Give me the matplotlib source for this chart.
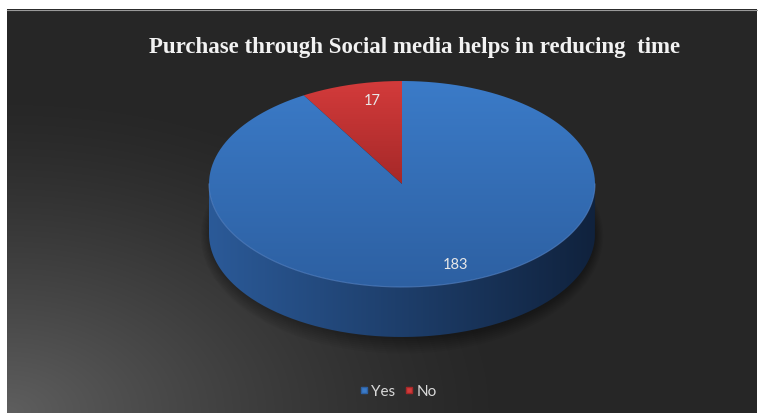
import matplotlib.pyplot as plt
import numpy as np
from matplotlib.path import Path
from matplotlib.patches import PathPatch
from matplotlib.lines import Line2D

labels = ['Yes', 'No']
values = [183, 17]
title = 'Purchase through Social media helps in reducing  time'

W, H = 758, 414
fig = plt.figure(figsize=(W / 100, H / 100), dpi=100)
fig.patch.set_facecolor('white')
ax = fig.add_axes([0, 0, 1, 1])
ax.set_xlim(0, W)
ax.set_ylim(H, 0)
ax.axis('off')

# background: dark with light glow in the bottom-left corner
x0, x1, y0, y1 = 7, 757, 10, 414
gx, gy = np.meshgrid(np.linspace(x0, x1, 300), np.linspace(y0, y1, 200))
d = np.sqrt(((gx - x0) / 500.0) ** 2 + ((gy - y1) / 320.0) ** 2)
v = np.clip(1 - d, 0, 1) ** 1.3
bg = 0.15 + 0.22 * v
img = np.dstack([bg, bg, bg])
ax.imshow(img, extent=(x0, x1, y1, y0), zorder=0, interpolation='bilinear')
ax.plot([x0, x1], [y0 + 0.5, y0 + 0.5], color='#9a9a9a', lw=0.8, zorder=1)
ax.set_xlim(0, W)
ax.set_ylim(H, 0)
ax.set_aspect('auto')

# pie geometry (pixels)
cx, cy, a, b, depth = 402, 185, 193, 103, 50


def ell(t, dy=0):
    return cx + a * np.cos(t), cy - b * np.sin(t) + dy


def grad_fill(verts, c_from, c_to, horizontal=False, z=2):
    path = Path(verts)
    patch = PathPatch(path, facecolor='none', edgecolor='none')
    ax.add_patch(patch)
    c_from = np.array(plt.matplotlib.colors.to_rgb(c_from))
    c_to = np.array(plt.matplotlib.colors.to_rgb(c_to))
    xs, ys = verts[:, 0], verts[:, 1]
    n = 256
    s = np.linspace(0, 1, n)
    cols = c_from[None, :] * (1 - s[:, None]) + c_to[None, :] * s[:, None]
    if horizontal:
        im = cols[None, :, :]
    else:
        im = cols[:, None, :]
    g = ax.imshow(im, extent=(xs.min(), xs.max(), ys.max(), ys.min()),
                  zorder=z, interpolation='bilinear', aspect='auto')
    g.set_clip_path(patch)


# soft shadow under the pie
for k in range(8):
    t = np.linspace(0, 2 * np.pi, 200)
    sx, sy = ell(t, depth + 2)
    ax.fill(cx + (sx - cx) * (1.0 + 0.006 * k), cy + depth + 2 + (sy - cy - depth - 2) * (1.0 + 0.02 * k),
            color='black', alpha=0.04, lw=0, zorder=1.5)

# side wall (front half)
t = np.linspace(np.pi, 2 * np.pi, 200)
tx, ty = ell(t)
bx, by = ell(t[::-1], depth)
side = np.column_stack([np.concatenate([tx, bx]), np.concatenate([ty, by])])
grad_fill(side, '#2b5a98', '#10223d', horizontal=True, z=2)
ax.plot(tx, ty, color='#5a8ad0', lw=0.8, alpha=0.6, zorder=3.5)

# top face slices: start at 12 o'clock, "No" goes counter-clockwise first
total = float(sum(values))
top_cols = {'Yes': ('#3b7bc8', '#2d60a2'), 'No': ('#d33b3b', '#a52828')}
order = ['No', 'Yes']
start = np.pi / 2
angles = {}
for name in order:
    val = values[labels.index(name)]
    span = 2 * np.pi * val / total
    tt = np.linspace(start, start + span, 300)
    ex, ey = ell(tt)
    verts = np.column_stack([np.concatenate([[cx], ex, [cx]]),
                             np.concatenate([[cy], ey, [cy]])])
    c0, c1 = top_cols[name]
    grad_fill(verts, c0, c1, z=3)
    angles[name] = (start, start + span)
    start += span

# data labels
lab_r = {'No': (0.59, 0.85), 'Yes': (1.06, 0.81)}
for name in order:
    s0, s1 = angles[name]
    m = (s0 + s1) / 2
    rx, ry = lab_r[name]
    lx = cx + a * rx * np.cos(m)
    ly = cy - b * ry * np.sin(m)
    ax.text(lx, ly, str(values[labels.index(name)]), color='#e8e8e8',
            fontsize=10.5, ha='center', va='center', zorder=5,
            family='Lato')

ax.text(415, 48, title, color='#f2f2f2', fontsize=16.5, fontweight='bold',
        family='Liberation Serif', ha='center', va='center', zorder=5)

handles = [Line2D([], [], ls='none', marker='s', markersize=5,
                  markerfacecolor='#3b7bc8', markeredgecolor='#2d60a2'),
           Line2D([], [], ls='none', marker='s', markersize=5,
                  markerfacecolor='#d33b3b', markeredgecolor='#a52828')]
leg = ax.legend(handles, labels, loc='center', bbox_to_anchor=(398 / W, 1 - 392 / H),
                ncol=2, frameon=False, handlelength=0.6, handletextpad=0.2,
                columnspacing=0.6, prop={'family': 'Lato', 'size': 11})
for tx_ in leg.get_texts():
    tx_.set_color('#d9d9d9')

fig.savefig('out.png', dpi=100, facecolor=fig.get_facecolor())
